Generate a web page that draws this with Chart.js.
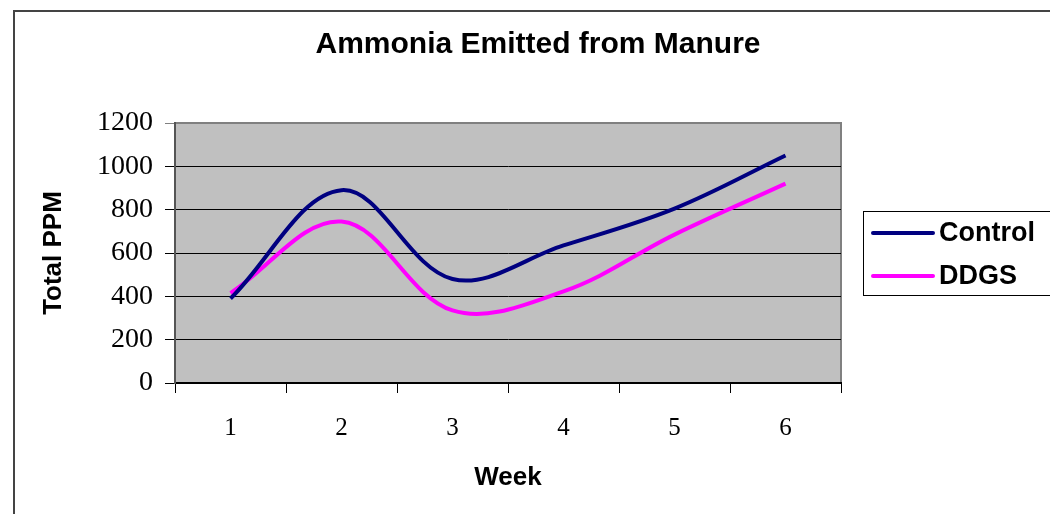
<!DOCTYPE html>
<html>
<head>
<meta charset="utf-8">
<script src="https://cdn.jsdelivr.net/npm/chart.js@4"></script>
<style>
    html, body { margin: 0; padding: 0; background: #fff; }
    #wrap { position: relative; width: 1050px; height: 514px; overflow: hidden; }
    #frame { position: absolute; left: 13px; top: 10px; width: 1100px; height: 600px;
             border-left: 2px solid #444; border-top: 2px solid #444; }
    canvas { position: absolute; left: 0; top: 0; }
</style>
</head>
<body>
<div id="wrap">
    <div id="frame"></div>
    <canvas id="chart" width="1050" height="514"></canvas>
</div>
<script>
const chartTitle = 'Ammonia Emitted from Manure';
const weeks = ['1', '2', '3', '4', '5', '6'];
const control = [390, 890, 480, 635, 805, 1050];
const ddgs = [415, 745, 335, 423, 685, 920];
const yTicks = [0, 200, 400, 600, 800, 1000, 1200];

// grey plot area with grey top/right edges like the old Excel look
const plotArea = {
    id: 'plotArea',
    beforeDraw(chart) {
        const { ctx, chartArea: a } = chart;
        ctx.save();
        ctx.fillStyle = '#C0C0C0';
        ctx.fillRect(a.left, a.top, a.right - a.left, a.bottom - a.top);
        ctx.strokeStyle = '#808080';
        ctx.lineWidth = 2;
        ctx.beginPath();
        ctx.moveTo(a.left, a.top);
        ctx.lineTo(a.right, a.top);
        ctx.lineTo(a.right, a.bottom);
        ctx.stroke();
        ctx.restore();
    }
};

// title centred on the whole frame, not just the plot
const frameTitle = {
    id: 'frameTitle',
    afterDraw(chart) {
        const ctx = chart.ctx;
        ctx.save();
        ctx.font = 'bold 30px "Liberation Sans", Arial, sans-serif';
        ctx.fillStyle = '#000';
        ctx.textAlign = 'center';
        ctx.textBaseline = 'middle';
        ctx.fillText(chartTitle, 538, 45);
        ctx.restore();
    }
};

// boxed legend to the right of the plot
const boxLegend = {
    id: 'boxLegend',
    afterDraw(chart) {
        const { ctx, chartArea: a } = chart;
        const x = a.right + 22, y = 211, rowH = 43;
        ctx.save();
        ctx.strokeStyle = '#000';
        ctx.lineWidth = 1;
        ctx.strokeRect(x + 0.5, y + 0.5, 300, 84);
        ctx.font = 'bold 27px "Liberation Sans", Arial, sans-serif';
        ctx.textBaseline = 'middle';
        ctx.fillStyle = '#000';
        chart.data.datasets.forEach((ds, i) => {
            const cy = y + 22 + i * rowH;
            ctx.strokeStyle = ds.borderColor;
            ctx.lineWidth = 4;
            ctx.lineCap = 'round';
            ctx.beginPath();
            ctx.moveTo(x + 10, cy);
            ctx.lineTo(x + 70, cy);
            ctx.stroke();
            ctx.fillText(ds.label, x + 76, cy + 1);
        });
        ctx.restore();
    }
};

new Chart(document.getElementById('chart'), {
    type: 'line',
    data: {
        labels: weeks,
        datasets: [
            { label: 'Control', data: control, borderColor: '#000080', borderWidth: 4, tension: 0.36, pointRadius: 0, fill: false },
            { label: 'DDGS', data: ddgs, borderColor: '#FF00FF', borderWidth: 4, tension: 0.36, pointRadius: 0, fill: false }
        ]
    },
    plugins: [plotArea, frameTitle, boxLegend],
    options: {
        responsive: false,
        animation: false,
        layout: { padding: { left: 14, right: 209, top: 123, bottom: 0 } },
        plugins: {
            legend: { display: false },
            tooltip: { enabled: false },
            title: { display: false }
        },
        scales: {
            x: {
                offset: true,
                afterFit: s => { s.height = 131; },
                grid: { offset: true, drawOnChartArea: false, drawTicks: true, tickLength: 10, color: '#000', lineWidth: 1 },
                border: { color: '#000', width: 2 },
                ticks: { color: '#000', padding: 20, font: { family: '"Liberation Serif", "Times New Roman", serif', size: 25 } },
                title: {
                    display: true, text: 'Week', color: '#000',
                    font: { family: '"Liberation Sans", Arial, sans-serif', size: 26, weight: 'bold', lineHeight: 1.2 },
                    padding: { top: 0, bottom: 21 }
                }
            },
            y: {
                min: 0,
                max: 1200,
                afterFit: s => { s.width = 161; },
                afterBuildTicks: s => { s.ticks = yTicks.map(v => ({ value: v })); },
                grid: {
                    color: c => c.tick && c.tick.value === 1200 ? '#808080' : '#000',
                    lineWidth: 1, tickLength: 10, drawTicks: true
                },
                border: { color: '#555', width: 2 },
                ticks: {
                    color: '#000', padding: 12,
                    callback: v => String(v),
                    font: { family: '"Liberation Serif", "Times New Roman", serif', size: 28 }
                },
                title: {
                    display: true, text: 'Total PPM', color: '#000',
                    font: { family: '"Liberation Sans", Arial, sans-serif', size: 26, weight: 'bold', lineHeight: 1.2 },
                    padding: { top: 24, bottom: 0 }
                }
            }
        }
    }
});
</script>
</body>
</html>
